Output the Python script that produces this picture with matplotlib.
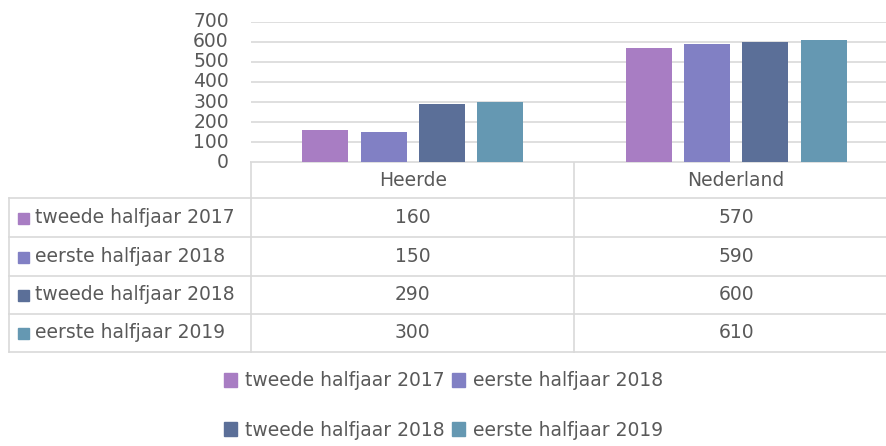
import matplotlib
matplotlib.use("Agg")
from matplotlib import pyplot as plt
from matplotlib.patches import Patch
from matplotlib.lines import Line2D
from matplotlib.transforms import blended_transform_factory

# data
categories = ['Heerde', 'Nederland']
series = ['tweede halfjaar 2017', 'eerste halfjaar 2018',
          'tweede halfjaar 2018', 'eerste halfjaar 2019']
heerde = [160, 150, 290, 300]
nederland = [570, 590, 600, 610]
colors = ['#a87dc3', '#8180c4', '#5b6f98', '#6598b2']
yticks = [0, 100, 200, 300, 400, 500, 600, 700]

W, H = 887, 446
txt = '#595959'
grid = '#d9d9d9'
fs = 13.5

fig = plt.figure(figsize=(W / 100, H / 100), dpi=100)

# plot area in pixels (right side runs off the picture, like the original crop)
left, right, top, bottom = 251, 898, 22, 162
ax = fig.add_axes([left / W, 1 - bottom / H, (right - left) / W, (bottom - top) / H])

values = [heerde, nederland]
for i, name in enumerate(series):
    xs = [c + (i - 1.5) * 0.18 for c in range(len(categories))]
    ax.bar(xs, [v[i] for v in values], width=0.142, color=colors[i], zorder=3)

ax.set_xlim(-0.5, len(categories) - 0.5)
ax.set_ylim(0, 700)
ax.set_yticks(yticks)
ax.set_xticks([])
ax.tick_params(axis='y', length=0, pad=16, labelsize=fs, labelcolor=txt)
ax.grid(axis='y', color=grid, linewidth=1.2, zorder=0)
for s in ax.spines.values():
    s.set_visible(False)
for lbl in ax.get_yticklabels():
    lbl.set_verticalalignment('center')

# data table below the plot, drawn on an overlay in pixel rows
tab = fig.add_axes([0, 0, 1, 1], zorder=-1)
tab.set_xlim(0, W)
tab.set_ylim(H, 0)
tab.axis('off')
tr = blended_transform_factory(ax.transData, tab.transData)

rows = [198, 237, 276, 314, 352]
lw = 1.2
tab.add_line(Line2D([left, W + 20], [bottom, bottom], color=grid, lw=lw))
for y in rows:
    tab.add_line(Line2D([9, W + 20], [y, y], color=grid, lw=lw))
tab.add_line(Line2D([9, 9], [rows[0], rows[-1]], color=grid, lw=lw))
tab.add_line(Line2D([left, left], [bottom, rows[-1]], color=grid, lw=lw))
for c in range(len(categories) - 1):
    tab.add_line(Line2D([c + 0.5, c + 0.5], [bottom, rows[-1]], color=grid, lw=lw,
                        transform=tr))

for c, name in enumerate(categories):
    tab.text(c, (bottom + rows[0]) / 2, name, transform=tr, ha='center', va='center',
             fontsize=fs, color=txt)

for i, name in enumerate(series):
    yc = (rows[i] + rows[i + 1]) / 2
    tab.add_patch(plt.Rectangle((18, yc - 5), 11, 11, color=colors[i]))
    tab.text(35, yc, name, ha='left', va='center', fontsize=fs, color=txt)
    for c in range(len(categories)):
        tab.text(c, yc, str(values[c][i]), transform=tr, ha='center', va='center',
                 fontsize=fs, color=txt)

# legend: two rows of two
handles = [Patch(color=colors[i], label=series[i]) for i in range(len(series))]
order = [0, 2, 1, 3]
fig.legend([handles[i] for i in order], [series[i] for i in order], ncol=2,
           loc='center', bbox_to_anchor=(0.5, 1 - 405.5 / H), frameon=False,
           fontsize=fs, labelcolor=txt, handlelength=0.7, handleheight=0.7,
           handletextpad=0.4, columnspacing=0.4, labelspacing=1.6)

fig.savefig('out.png', dpi=100)
